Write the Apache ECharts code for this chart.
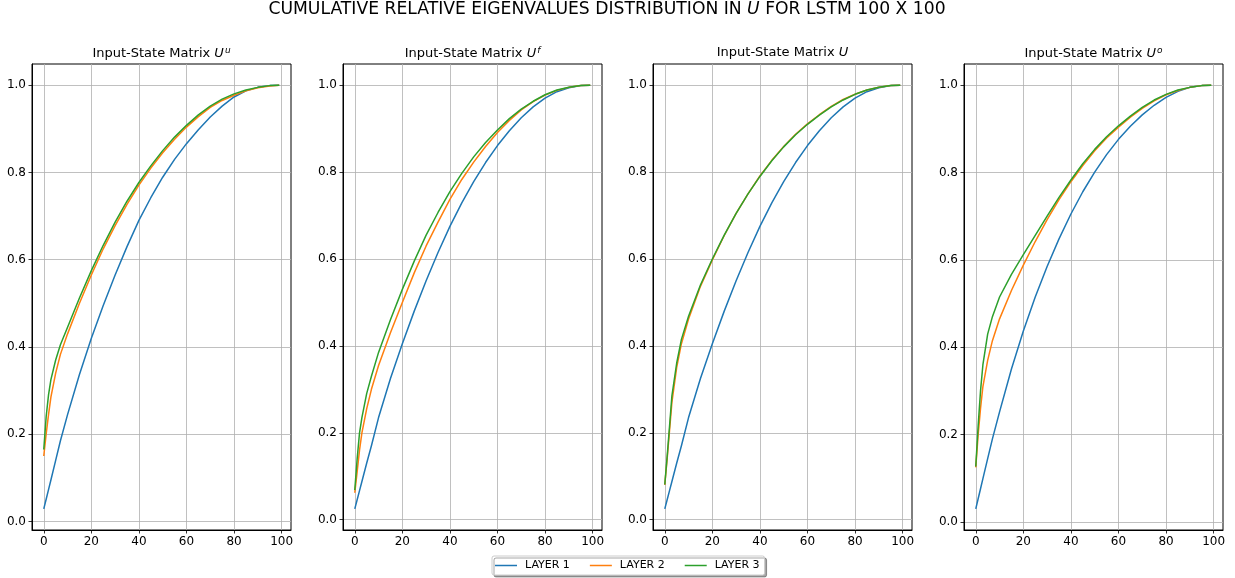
<!DOCTYPE html>
<html><head><meta charset="utf-8">
<script src="https://cdn.jsdelivr.net/npm/echarts@6/dist/echarts.min.js"></script>
<style>html,body{margin:0;padding:0;background:#fff}#c{width:1235px;height:578px}</style>
</head><body><div id="c"></div>
<script>
const xs = [0,1,2,3,5,7,10,15,20,25,30,35,40,45,50,55,60,65,70,75,80,85,90,95,99];
const seriesNames = ['LAYER 1','LAYER 2','LAYER 3'];
const panelSup = ['u','f','','o'];
const xTicks = [0,20,40,60,80,100];
const yTicks = [0,0.2,0.4,0.6,0.8,1.0];

// Panel 1: U^u
const p1L1 = [0.029,0.051,0.073,0.095,0.14,0.185,0.245,0.337,0.42,0.495,0.565,0.63,0.69,0.742,0.789,0.83,0.866,0.898,0.927,0.952,0.973,0.987,0.995,0.999,1.0];
const p1L2 = [0.15,0.2,0.245,0.285,0.34,0.383,0.43,0.5,0.565,0.625,0.678,0.727,0.771,0.81,0.845,0.876,0.904,0.928,0.949,0.965,0.977,0.987,0.994,0.998,1.0];
const p1L3 = [0.165,0.24,0.29,0.325,0.37,0.405,0.445,0.512,0.575,0.633,0.686,0.734,0.777,0.815,0.85,0.881,0.908,0.932,0.952,0.968,0.98,0.989,0.995,0.999,1.0];
// Panel 2: U^f
const p2L1 = [0.025,0.046,0.067,0.088,0.13,0.17,0.235,0.325,0.405,0.48,0.55,0.615,0.675,0.729,0.778,0.822,0.861,0.895,0.925,0.95,0.97,0.985,0.994,0.999,1.0];
const p2L2 = [0.062,0.11,0.16,0.2,0.255,0.3,0.355,0.43,0.5,0.568,0.63,0.685,0.737,0.783,0.823,0.859,0.891,0.919,0.943,0.962,0.977,0.988,0.995,0.999,1.0];
const p2L3 = [0.068,0.14,0.2,0.235,0.29,0.33,0.385,0.46,0.53,0.595,0.655,0.707,0.755,0.797,0.835,0.868,0.897,0.923,0.945,0.963,0.978,0.989,0.995,0.999,1.0];
// Panel 3: U
const p3L1 = [0.025,0.046,0.067,0.088,0.13,0.17,0.235,0.325,0.405,0.48,0.55,0.615,0.675,0.729,0.778,0.822,0.861,0.895,0.925,0.95,0.97,0.985,0.994,0.999,1.0];
const p3L2 = [0.08,0.14,0.205,0.27,0.35,0.405,0.462,0.537,0.598,0.654,0.705,0.75,0.791,0.827,0.859,0.887,0.911,0.932,0.951,0.967,0.979,0.989,0.995,0.999,1.0];
const p3L3 = [0.081,0.145,0.215,0.285,0.36,0.415,0.468,0.54,0.6,0.655,0.705,0.75,0.79,0.826,0.858,0.886,0.91,0.931,0.95,0.966,0.979,0.989,0.995,0.999,1.0];
// Panel 4: U^o
const p4L1 = [0.03,0.053,0.076,0.099,0.145,0.19,0.252,0.35,0.437,0.515,0.585,0.648,0.705,0.756,0.801,0.841,0.876,0.906,0.932,0.954,0.972,0.986,0.995,0.999,1.0];
const p4L2 = [0.125,0.2,0.26,0.31,0.37,0.415,0.465,0.53,0.588,0.642,0.692,0.738,0.779,0.816,0.85,0.879,0.904,0.927,0.947,0.964,0.978,0.988,0.995,0.999,1.0];
const p4L3 = [0.127,0.22,0.3,0.36,0.43,0.47,0.515,0.567,0.612,0.656,0.7,0.743,0.783,0.82,0.853,0.882,0.907,0.929,0.949,0.966,0.979,0.989,0.995,0.999,1.0];

const panels = [[p1L1,p1L2,p1L3],[p2L1,p2L2,p2L3],[p3L1,p3L2,p3L3],[p4L1,p4L2,p4L3]];
const colors = ['#1f77b4','#ff7f0e','#2ca02c'];
const FONT = 'DejaVu Sans';
const gridLefts = [32,343,653,964];
const gridW = 259, gridTop = 64, gridH = 466;

const chart = echarts.init(document.getElementById('c'), null, {renderer:'canvas'});
const grid=[], xAxis=[], yAxis=[], series=[], graphics=[];
const xmin = -0.05*99, xmax = 99+0.05*99;
panels.forEach((p,k)=>{
  grid.push({left:gridLefts[k], top:gridTop, width:gridW, height:gridH, show:true, borderColor:'#000', borderWidth:1, containLabel:false});
  let mn = Math.min(...p.flat()), mx = Math.max(...p.flat());
  const pad = 0.05*(mx-mn);
  xAxis.push({type:'value', gridIndex:k, min:xmin, max:xmax,
    axisLine:{show:true, onZero:false, lineStyle:{color:'#000', width:1}},
    axisTick:{show:true, length:3.5, lineStyle:{color:'#000', width:0.8}, customValues:xTicks},
    axisLabel:{show:true, customValues:xTicks, color:'#000', fontFamily:FONT, fontSize:12, margin:6, formatter:v=>String(Math.round(v))},
    splitLine:{show:true, lineStyle:{color:'#b0b0b0', width:0.8}}});
  yAxis.push({type:'value', gridIndex:k, min:mn-pad, max:mx+pad,
    axisLine:{show:true, onZero:false, lineStyle:{color:'#000', width:1}},
    axisTick:{show:true, length:3.5, lineStyle:{color:'#000', width:0.8}, customValues:yTicks},
    axisLabel:{show:true, customValues:yTicks, color:'#000', fontFamily:FONT, fontSize:12, margin:6, formatter:v=>v.toFixed(1)},
    splitLine:{show:true, lineStyle:{color:'#b0b0b0', width:0.8}}});
  p.forEach((vals,j)=>{
    series.push({type:'line', name:seriesNames[j], xAxisIndex:k, yAxisIndex:k,
      data:xs.map((x,i)=>[x,vals[i]]), showSymbol:false, symbol:'none', smooth:false,
      lineStyle:{color:colors[j], width:1.5, join:'round'}, itemStyle:{color:colors[j]}, z:2+j, animation:false});
  });
  const cx = gridLefts[k]+gridW/2;
  const rich = {b:{fontFamily:FONT,fontSize:13,color:'#000'}, i:{fontFamily:FONT,fontSize:13,fontStyle:'italic',color:'#000'}, s:{fontFamily:FONT,fontSize:9,fontStyle:'italic',color:'#000',verticalAlign:'top', padding:[0,0,6,1]}};
  let txt = '{b|Input-State Matrix }{i|U}' + (panelSup[k] ? '{s|'+panelSup[k]+'}' : '');
  graphics.push({type:'text', x:cx, y:46, style:{text:txt, rich:rich, align:'center', verticalAlign:'top'}});
});
graphics.push({type:'text', x:607, y:1, style:{text:'{b|CUMULATIVE RELATIVE EIGENVALUES DISTRIBUTION IN }{i|U}{b| FOR LSTM 100 X 100}', align:'center', verticalAlign:'top',
  rich:{b:{fontFamily:FONT,fontSize:17.2,color:'#000'}, i:{fontFamily:FONT,fontSize:17.2,fontStyle:'italic',color:'#000'}}}});

chart.setOption({
  animation:false,
  backgroundColor:'#fff',
  grid, xAxis, yAxis, series,
  graphic: graphics,
  legend:{data:seriesNames, left:492, top:556, orient:'horizontal', itemGap:20, itemWidth:22, itemHeight:1.5, icon:'rect',
    padding:[4,5,4,3], borderColor:'#cccccc', borderWidth:1, borderRadius:2, backgroundColor:'#fff',
    shadowColor:'rgba(0,0,0,0.35)', shadowOffsetX:2, shadowOffsetY:2, shadowBlur:0,
    textStyle:{fontFamily:FONT, fontSize:11, color:'#000', padding:[0,0,0,3]}}
});
</script></body></html>
